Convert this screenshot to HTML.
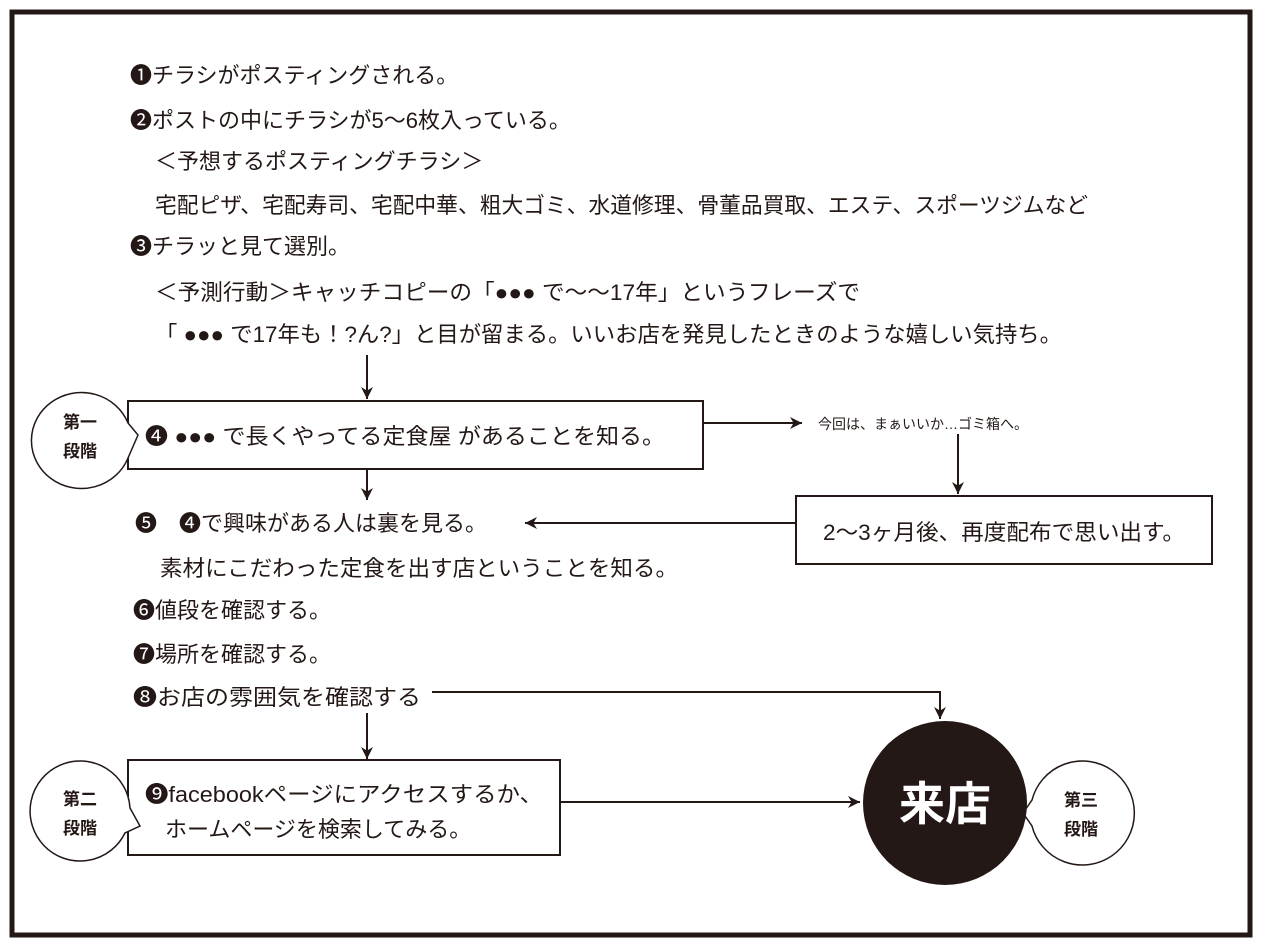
<!DOCTYPE html>
<html><head><meta charset="utf-8"><style>
body{margin:0;background:#fff}
svg text{font-family:"Liberation Sans","Noto Sans CJK JP",sans-serif;fill:#231815}
</style></head><body>
<svg width="1263" height="946" viewBox="0 0 1263 946" xmlns="http://www.w3.org/2000/svg">
<defs><marker id="a" viewBox="0 0 10 10" refX="10" refY="5" markerWidth="12" markerHeight="12" markerUnits="userSpaceOnUse" orient="auto"><path d="M0,0 L10,5 L0,10 L3,5 z" fill="#231815"/></marker></defs>
<rect x="12" y="12" width="1238" height="923" fill="none" stroke="#231815" stroke-width="5"/>
<g font-size="22">
<text x="130" y="83">❶チラシがポスティングされる。</text>
<text x="130" y="128">❷ポストの中にチラシが5〜6枚入っている。</text>
<text x="155" y="169">＜予想するポスティングチラシ＞</text>
<text x="155" y="213" textLength="933" lengthAdjust="spacingAndGlyphs">宅配ピザ、宅配寿司、宅配中華、粗大ゴミ、水道修理、骨董品買取、エステ、スポーツジムなど</text>
<text x="130" y="254">❸チラッと見て選別。</text>
<text x="155" y="300" textLength="705" lengthAdjust="spacingAndGlyphs">＜予測行動＞キャッチコピーの「●●● で〜〜17年」というフレーズで</text>
<text x="155" y="342" textLength="907" lengthAdjust="spacingAndGlyphs">「 ●●● で17年も！?ん?」と目が留まる。いいお店を発見したときのような嬉しい気持ち。</text>
<text x="145" y="444" textLength="520" lengthAdjust="spacingAndGlyphs">❹ ●●● で長くやってる定食屋 があることを知る。</text>
<text x="135" y="531">❺　❹で興味がある人は裏を見る。</text>
<text x="160" y="576" textLength="518" lengthAdjust="spacingAndGlyphs">素材にこだわった定食を出す店ということを知る。</text>
<text x="133" y="618">❻値段を確認する。</text>
<text x="133" y="662">❼場所を確認する。</text>
<text x="133" y="705" textLength="288" lengthAdjust="spacingAndGlyphs">❽お店の雰囲気を確認する</text>
<text x="145" y="802" textLength="398" lengthAdjust="spacingAndGlyphs">❾facebookページにアクセスするか、</text>
<text x="165" y="837">ホームページを検索してみる。</text>
<text x="1004" y="540" text-anchor="middle" textLength="362" lengthAdjust="spacingAndGlyphs">2〜3ヶ月後、再度配布で思い出す。</text>
</g>
<text x="818" y="429" font-size="14">今回は、まぁいいか…ゴミ箱へ。</text>
<g fill="none" stroke="#231815" stroke-width="2">
<rect x="128" y="401" width="575" height="68"/>
<rect x="796" y="496" width="416" height="68"/>
<rect x="128" y="760" width="432" height="95"/>
<line x1="367" y1="355" x2="367" y2="399" marker-end="url(#a)"/>
<line x1="367" y1="470" x2="367" y2="500" marker-end="url(#a)"/>
<line x1="703" y1="423" x2="802" y2="423" marker-end="url(#a)"/>
<line x1="958" y1="434" x2="958" y2="494" marker-end="url(#a)"/>
<line x1="796" y1="523" x2="525" y2="523" marker-end="url(#a)"/>
<polyline points="432,692 940,692 940,719" marker-end="url(#a)"/>
<line x1="367" y1="713" x2="367" y2="759" marker-end="url(#a)"/>
<line x1="560" y1="802" x2="860" y2="802" marker-end="url(#a)"/>
</g>
<g fill="#fff" stroke="#231815" stroke-width="1.5">
<path d="M128,423 A50,48 0 1 0 128,458 L138,435 Z"/>
<path d="M130,808 A50,50 0 1 0 125,833 L140,826 Z"/>
<path d="M1032,800 A52,52 0 1 1 1032,826 L1023,813 Z"/>
</g>
<circle cx="945" cy="803" r="82" fill="#231815"/>
<text x="945" y="820" font-size="46" font-weight="bold" text-anchor="middle" style="fill:#fff">来店</text>
<g font-size="17" font-weight="bold" text-anchor="middle">
<text x="80" y="428">第一</text><text x="80" y="457">段階</text>
<text x="80" y="805">第二</text><text x="80" y="834">段階</text>
<text x="1081" y="806">第三</text><text x="1081" y="835">段階</text>
</g>
</svg>
</body></html>
